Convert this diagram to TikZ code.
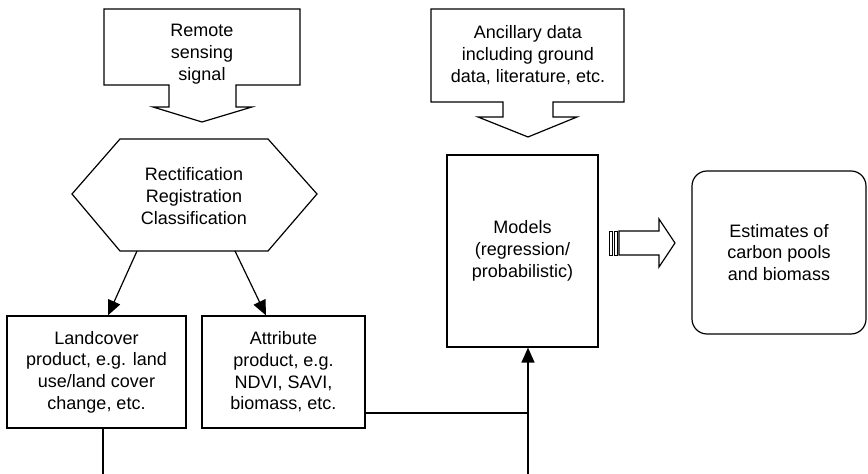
\documentclass[tikz,border=0pt]{standalone}
\usepackage{fontspec}
\setmainfont{Liberation Sans}
\usetikzlibrary{arrows.meta}

\tikzset{
  box/.style={draw, align=center, inner sep=2pt},
  txt/.style={align=center},
  link/.style={-{Triangle[length=7.5pt,width=6.5pt]}},
}

\begin{document}
\begin{tikzpicture}[x=0.5pt,y=-0.5pt,line width=0.6pt,font=\fontsize{9}{10.85}\selectfont]
  \useasboundingbox (0,0) rectangle (868,474);

  % remote sensing input
  \draw (104,9) -- (300,9) -- (300,85) -- (236,85) -- (236,107) -- (252,107)
    -- (202,122) -- (153,107) -- (169,107) -- (169,85) -- (104,85) -- cycle;
  \node[txt] (remote) at (202,54) {Remote\\sensing\\signal};

  % ancillary input
  \draw (431,9) -- (624,9) -- (624,102) -- (553,102) -- (553,117) -- (577,117)
    -- (528,137) -- (478,117) -- (503,117) -- (503,102) -- (431,102) -- cycle;
  \node[txt] (ancil) at (528,55) {Ancillary data\\including ground\\data, literature, etc.};

  % preprocessing
  \coordinate (h1) at (72,194);
  \coordinate (h2) at (120,139);
  \coordinate (h3) at (268,139);
  \coordinate (h4) at (317,194);
  \coordinate (h5) at (268,251);
  \coordinate (h6) at (120,251);
  \draw (h1) -- (h2) -- (h3) -- (h4) -- (h5) -- (h6) -- cycle;
  \node[txt] (proc) at (194,196) {Rectification\\Registration\\Classification};
  \coordinate (hl) at (137,251);
  \coordinate (hr) at (235,251);

  % products
  \node[box, minimum width=89.5pt, minimum height=56pt] (land) at (96.5,372)
    {Landcover\\product, e.g. land\\use/land cover\\change, etc.};
  \node[box, minimum width=81.5pt, minimum height=56pt] (attr) at (283.5,372)
    {Attribute\\product, e.g.\\NDVI, SAVI,\\biomass, etc.};
  \node[box, minimum width=75.5pt, minimum height=96pt] (models) at (522.5,251)
    {Models\\(regression/\\probabilistic)};
  \node[box, rounded corners=7.5pt, minimum width=87pt, minimum height=81.5pt] (est) at (779,252.5)
    {Estimates of\\carbon pools\\and biomass};

  \draw[link] (hl) -- ([xshift=5.75pt]land.north);
  \draw[link] (hr) -- ([xshift=-8.75pt]attr.north);

  \coordinate (landout) at (103,474);
  \coordinate (join) at (528,413);
  \coordinate (feed) at (528,474);
  \draw (land.south -| landout) -- (landout);
  \draw (attr.east |- join) -- (join);
  \draw[link] (feed) -- (models.south -| feed);

  % output arrow
  \draw[line width=0.35pt] (609,231) rectangle (612,255);
  \draw[line width=0.35pt] (614,231) rectangle (617,255);
  \draw (619,231) -- (659,231) -- (659,219) -- (675,243) -- (659,267) -- (659,255)
    -- (619,255) -- cycle;
\end{tikzpicture}
\end{document}
